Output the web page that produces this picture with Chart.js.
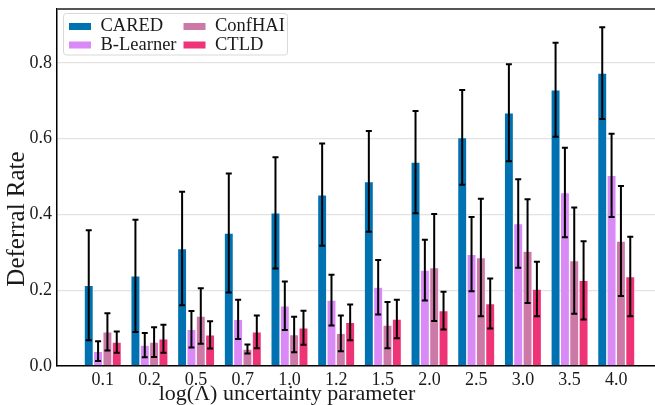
<!DOCTYPE html>
<html>
<head>
<meta charset="utf-8">
<script src="https://cdn.jsdelivr.net/npm/chart.js@4/dist/chart.umd.min.js"></script>
<style>
  html, body { margin: 0; padding: 0; background: #fff; }
  #wrap { width: 655px; height: 405px; position: relative; }
</style>
</head>
<body>
<div id="wrap"><canvas id="c"></canvas></div>
<script>
// Deferral rate vs log(Lambda): four methods, mean bars with symmetric error bars.
const categories = ["0.1", "0.2", "0.5", "0.7", "1.0", "1.2", "1.5", "2.0", "2.5", "3.0", "3.5", "4.0"];
const yTicks = [0.0, 0.2, 0.4, 0.6, 0.8];

const caredMean    = [0.213, 0.238, 0.310, 0.351, 0.404, 0.452, 0.487, 0.538, 0.603, 0.668, 0.729, 0.773];
const caredErr     = [0.145, 0.148, 0.150, 0.157, 0.147, 0.135, 0.133, 0.135, 0.125, 0.128, 0.124, 0.121];
const bLearnerMean = [0.039, 0.055, 0.097, 0.123, 0.159, 0.174, 0.208, 0.253, 0.295, 0.376, 0.458, 0.503];
const bLearnerErr  = [0.026, 0.032, 0.048, 0.052, 0.064, 0.067, 0.072, 0.080, 0.098, 0.117, 0.118, 0.110];
const confHaiMean  = [0.090, 0.063, 0.132, 0.045, 0.083, 0.086, 0.108, 0.260, 0.286, 0.303, 0.278, 0.330];
const confHaiErr   = [0.049, 0.039, 0.073, 0.012, 0.047, 0.047, 0.061, 0.141, 0.155, 0.137, 0.140, 0.145];
const ctldMean     = [0.063, 0.072, 0.082, 0.090, 0.101, 0.115, 0.124, 0.146, 0.165, 0.203, 0.226, 0.236];
const ctldErr      = [0.028, 0.037, 0.036, 0.043, 0.045, 0.047, 0.051, 0.050, 0.066, 0.072, 0.103, 0.105];

const SERIF = "'Liberation Serif', 'DejaVu Serif', serif";
const INK = "#1a1a1a";

function series(label, means, errs, color) {
  return {
    label,
    data: means.map((y, i) => ({ x: i, y })),
    errs,
    backgroundColor: color,
    borderColor: "rgba(255,255,255,0.4)",
    borderWidth: 0.7,
    categoryPercentage: 0.8,
    barPercentage: 1.0,
  };
}

// error bars, top spine, axis titles, legend (two columns filled column-wise)
const extras = {
  id: "extras",
  afterDatasetsDraw(chart) {
    const { ctx, scales: { y } } = chart;
    ctx.save();
    ctx.strokeStyle = "#000";
    ctx.lineWidth = 2;
    chart.data.datasets.forEach((ds, di) => {
      chart.getDatasetMeta(di).data.forEach((bar, i) => {
        const m = ds.data[i].y, e = ds.errs[i];
        const top = y.getPixelForValue(m + e), bot = y.getPixelForValue(m - e);
        ctx.beginPath();
        ctx.moveTo(bar.x, top); ctx.lineTo(bar.x, bot);
        ctx.moveTo(bar.x - 3, top); ctx.lineTo(bar.x + 3, top);
        ctx.moveTo(bar.x - 3, bot); ctx.lineTo(bar.x + 3, bot);
        ctx.stroke();
      });
    });
    ctx.restore();
  },
  afterDraw(chart) {
    const { ctx, chartArea: a } = chart;
    ctx.save();
    ctx.strokeStyle = "#555";
    ctx.lineWidth = 2;
    ctx.beginPath();
    ctx.moveTo(a.left, a.top); ctx.lineTo(a.right, a.top);
    ctx.stroke();

    ctx.fillStyle = INK;
    ctx.font = "22px " + SERIF;
    ctx.textAlign = "center";
    ctx.textBaseline = "middle";
    ctx.fillText("log(Λ) uncertainty parameter", 287, 394);
    ctx.font = "25px " + SERIF;
    ctx.translate(17, 219);
    ctx.rotate(-Math.PI / 2);
    ctx.fillText("Deferral Rate", 0, 0);
    ctx.setTransform(1, 0, 0, 1, 0, 0);

    const bx = 63.5, by = 13.5, bw = 224, bh = 41.5;
    ctx.fillStyle = "rgba(255,255,255,0.85)";
    ctx.strokeStyle = "#d9d9d9";
    ctx.lineWidth = 1;
    ctx.beginPath();
    ctx.roundRect(bx, by, bw, bh, 3);
    ctx.fill(); ctx.stroke();
    const cols = [69, 183.5], rows = [26.5, 45];
    ctx.font = "18.5px " + SERIF;
    ctx.textAlign = "left";
    chart.data.datasets.forEach((ds, i) => {
      const cx = cols[Math.floor(i / 2)], cy = rows[i % 2];
      ctx.fillStyle = ds.backgroundColor;
      ctx.fillRect(cx, cy - 3.5, 22, 7);
      ctx.fillStyle = INK;
      ctx.fillText(ds.label, cx + 31.5, cy);
    });
    ctx.restore();
  },
};

new Chart(document.getElementById("c"), {
  type: "bar",
  data: {
    datasets: [
      series("CARED", caredMean, caredErr, "#0072B2"),
      series("B-Learner", bLearnerMean, bLearnerErr, "#D98AF7"),
      series("ConfHAI", confHaiMean, confHaiErr, "#CC79A7"),
      series("CTLD", ctldMean, ctldErr, "#EE3377"),
    ],
  },
  options: {
    responsive: true, maintainAspectRatio: false,
    animation: false,
    layout: { padding: { top: 9, right: 0, left: 0, bottom: 0 } },
    plugins: { legend: { display: false }, tooltip: { enabled: false } },
    scales: {
      x: {
        type: "linear", min: -0.98, max: 11.83, offset: false,
        grid: { display: false, drawTicks: false },
        border: { color: "#000", width: 1.5 },
        afterBuildTicks: s => { s.ticks = categories.map((_, i) => ({ value: i })); },
        afterFit: s => { s.height = 39; s.paddingLeft = 0; s.paddingRight = 0; },
        ticks: {
          autoSkip: false, maxRotation: 0, padding: 3, color: INK,
          font: { family: SERIF, size: 18 },
          callback: v => categories[v] ?? "",
        },
      },
      y: {
        min: 0, max: 0.942,
        grid: { color: "#e3e3e3", lineWidth: 1.3, drawTicks: false },
        border: { color: "#000", width: 1.5 },
        afterBuildTicks: s => { s.ticks = yTicks.map(v => ({ value: v })); },
        afterFit: s => { s.width = 57; s.paddingTop = 0; s.paddingBottom = 0; },
        ticks: {
          padding: 5, color: INK,
          font: { family: SERIF, size: 18 },
          callback: v => v.toFixed(1),
        },
      },
    },
  },
  plugins: [extras],
});
</script>
</body>
</html>
